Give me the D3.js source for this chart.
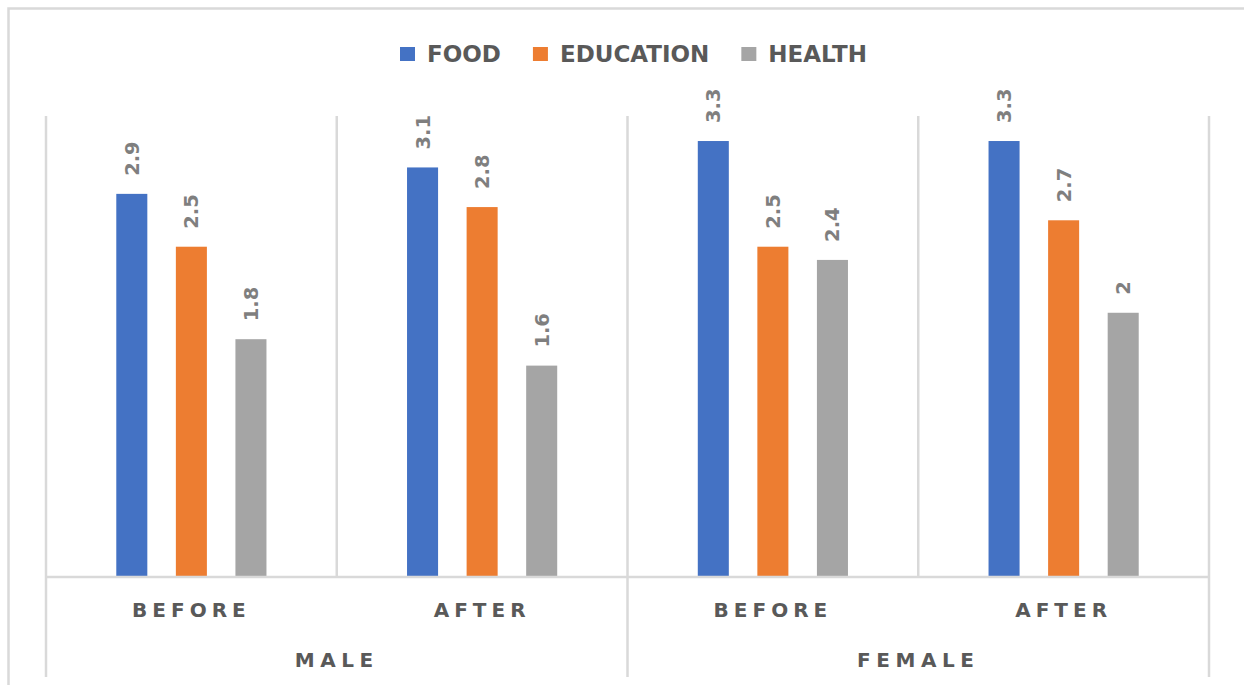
<!DOCTYPE html>
<html>
<head>
<meta charset="utf-8">
<script src="https://cdn.jsdelivr.net/npm/d3@7"></script>
<style>
  html, body { margin: 0; padding: 0; background: #ffffff; }
  svg { display: block; }
  text { font-family: "DejaVu Sans", sans-serif; font-weight: bold; }
</style>
</head>
<body>
<div id="chart"></div>
<script>
// ---- data ----
const groups = ["MALE", "FEMALE"];
const periods = ["BEFORE", "AFTER"];
const seriesNames = ["FOOD", "EDUCATION", "HEALTH"];
const food = [2.9, 3.1, 3.3, 3.3];
const education = [2.5, 2.8, 2.5, 2.7];
const health = [1.8, 1.6, 2.4, 2];
const seriesColors = ["#4472C4", "#ED7D31", "#A5A5A5"];

// ---- layout ----
const W = 1244, H = 685;
const plotLeft = 46, plotRight = 1209, plotTop = 116, plotBase = 577;
const lineColor = "#D9D9D9";
const lw = 2.5;

const svg = d3.select("#chart").append("svg").attr("width", W).attr("height", H);

// categories (group/period)
const cats = [];
groups.forEach(g => periods.forEach(p => cats.push({ key: g + "|" + p, group: g, period: p })));
const seriesValues = [food, education, health];

const x0 = d3.scaleBand().domain(cats.map(c => c.key)).range([plotLeft, plotRight]).paddingInner(0).paddingOuter(0);
const xg = d3.scaleBand().domain(groups).range([plotLeft, plotRight]).padding(0);
const x1 = d3.scaleBand().domain(seriesNames).range([0, x0.bandwidth()]).paddingInner(0.479).paddingOuter(1.18);
const y = d3.scaleLinear().domain([0, 3.5]).range([plotBase, 114.6]);

// outer chart border
svg.append("rect")
  .attr("x", 8.5).attr("y", 8.5).attr("width", 2000).attr("height", 2000)
  .attr("fill", "none").attr("stroke", lineColor).attr("stroke-width", lw);

// vertical dividers between categories (plot area)
const catEdges = cats.map(c => x0(c.key)).concat([plotRight]);
svg.append("g").selectAll("line").data(catEdges).join("line")
  .attr("x1", d => d).attr("x2", d => d)
  .attr("y1", plotTop).attr("y2", plotBase)
  .attr("stroke", lineColor).attr("stroke-width", lw);

// group dividers extend below axis
const groupEdges = groups.map(g => xg(g)).concat([plotRight]);
svg.append("g").selectAll("line").data(groupEdges).join("line")
  .attr("x1", d => d).attr("x2", d => d)
  .attr("y1", plotBase).attr("y2", 677)
  .attr("stroke", lineColor).attr("stroke-width", lw);

// bars
const barData = [];
cats.forEach((c, ci) => seriesNames.forEach((s, si) => {
  barData.push({ cat: c.key, series: s, value: seriesValues[si][ci], color: seriesColors[si] });
}));

svg.append("g").selectAll("rect").data(barData).join("rect")
  .attr("x", d => x0(d.cat) + x1(d.series))
  .attr("y", d => y(d.value))
  .attr("width", x1.bandwidth())
  .attr("height", d => y(0) - y(d.value))
  .attr("fill", d => d.color);

// data labels (rotated)
svg.append("g").selectAll("text").data(barData).join("text")
  .attr("transform", d => `translate(${x0(d.cat) + x1(d.series) + x1.bandwidth() / 2},${y(d.value) - 18}) rotate(-90)`)
  .attr("text-anchor", "start")
  .attr("dy", "0.36em")
  .attr("font-size", 19.5)
  .attr("fill", "#7F7F7F")
  .text(d => String(d.value));

// x axis baseline
svg.append("line")
  .attr("x1", plotLeft - 1).attr("x2", plotRight + 1)
  .attr("y1", plotBase).attr("y2", plotBase)
  .attr("stroke", lineColor).attr("stroke-width", lw);

// category labels via axis
const catLs = 5;
const axisCat = d3.axisBottom(x0).tickSize(0).tickFormat(k => k.split("|")[1]);
const gCat = svg.append("g").attr("transform", `translate(0,${plotBase})`).call(axisCat);
gCat.select(".domain").remove();
gCat.selectAll("text")
  .attr("y", 40).attr("dy", 0)
  .attr("dx", 0)
  .attr("font-size", 20)
  .attr("font-family", "DejaVu Sans")
  .attr("font-weight", "bold")
  .attr("letter-spacing", catLs)
  .attr("fill", "#595959");

// group labels via axis
const grpLs = 5.6;
const axisGrp = d3.axisBottom(xg).tickSize(0);
const gGrp = svg.append("g").attr("transform", `translate(0,${plotBase})`).call(axisGrp);
gGrp.select(".domain").remove();
gGrp.selectAll("text")
  .attr("y", 90).attr("dy", 0)
  .attr("dx", 0)
  .attr("font-size", 20)
  .attr("font-family", "DejaVu Sans")
  .attr("font-weight", "bold")
  .attr("letter-spacing", grpLs)
  .attr("fill", "#595959");

// legend
const legend = svg.append("g");
let lx = 400;
seriesNames.forEach((s, i) => {
  legend.append("rect").attr("x", lx).attr("y", 47).attr("width", 15).attr("height", 14).attr("fill", seriesColors[i]);
  const t = legend.append("text").attr("x", lx + 27).attr("y", 62)
    .attr("font-size", 23).attr("fill", "#595959").text(s);
  lx = lx + 27 + t.node().getComputedTextLength() + 32;
});
</script>
</body>
</html>
